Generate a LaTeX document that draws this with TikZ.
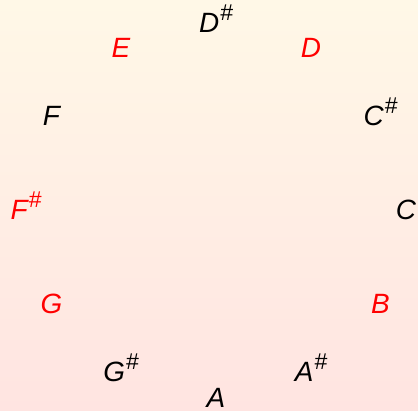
\documentclass[tikz,border=0pt]{standalone}
\usepackage{fontspec}
\setmainfont{Liberation Sans}
\begin{document}
\begin{tikzpicture}[x=1bp,y=1bp,
  note/.style={font=\fontsize{28}{30}\selectfont\itshape, inner sep=0pt},
  rednote/.style={note, text=red},
  blacknote/.style={note, text=black}]
\definecolor{topc}{HTML}{FFF8E7}
\definecolor{botc}{HTML}{FFE4E1}
\shade[top color=topc, bottom color=botc] (0,0) rectangle (418,411);
\useasboundingbox (0,0) rectangle (418,411);
\newcommand{\shp}{\smash{\raisebox{12bp}{\fontsize{23}{23}\selectfont\kern1bp\#}}}
\begin{scope}[shift={(216,201)}]
\node[blacknote] (Ds) at (90:190 and 187.5)  {D\shp};
\node[rednote]   (D)  at (60:190 and 187.5)  {D};
\node[blacknote] (Cs) at (30:190 and 187.5)  {C\shp};
\node[blacknote] (C)  at (0:190 and 187.5)   {C};
\node[rednote]   (B)  at (-30:190 and 187.5) {B};
\node[blacknote] (As) at (-60:190 and 187.5) {A\shp};
\node[blacknote] (A)  at (-90:190 and 187.5) {A};
\node[blacknote] (Gs) at (-120:190 and 187.5) {G\shp};
\node[rednote]   (G)  at (-150:190 and 187.5) {G};
\node[rednote]   (Fs) at (180:190 and 187.5) {F\shp};
\node[blacknote] (F)  at (150:190 and 187.5) {F};
\node[rednote]   (E)  at (120:190 and 187.5) {E};
\end{scope}
\end{tikzpicture}
\end{document}
